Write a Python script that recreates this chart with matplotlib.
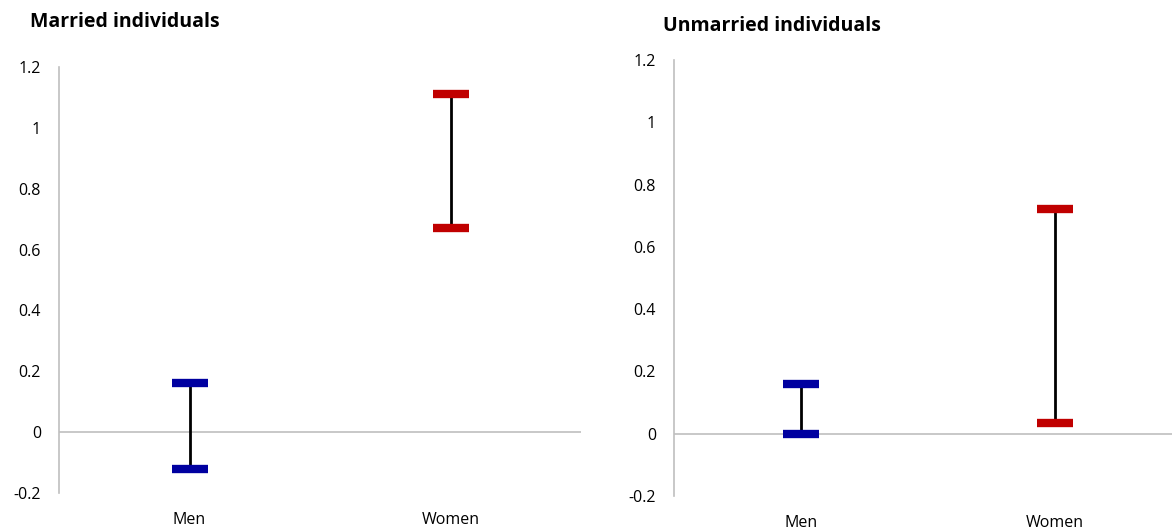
import matplotlib.pyplot as plt

plt.rcParams['font.family'] = ['Open Sans', 'DejaVu Sans']

categories = ['Men', 'Women']
married_low = [-0.12, 0.67]
married_high = [0.16, 1.11]
unmarried_low = [0.0, 0.035]
unmarried_high = [0.16, 0.72]
cap_colors = ['#0000A0', '#C00000']
yticks = [-0.2, 0, 0.2, 0.4, 0.6, 0.8, 1, 1.2]
ylabels = ['-0.2', '0', '0.2', '0.4', '0.6', '0.8', '1', '1.2']

W, H = 1172, 527
fig = plt.figure(figsize=(W / 100, H / 100), dpi=100)


def panel(rect, low, high, title, title_xy):
    x0, x1, ytop, ybot = rect
    ax = fig.add_axes([x0 / W, (H - ybot) / H, (x1 - x0) / W, (ybot - ytop) / H])
    ax.set_xlim(-0.5, 1.5)
    ax.set_ylim(-0.2, 1.2)
    ax.axhline(0, color='#BFBFBF', lw=1.2, zorder=1)
    xs = range(len(categories))
    ax.vlines(xs, low, high, color='black', lw=2, zorder=2)
    for i in xs:
        for v in (low[i], high[i]):
            ax.plot([i], [v], marker='_', ms=26, mew=6, color=cap_colors[i], zorder=3)
    for s in ['top', 'right', 'bottom']:
        ax.spines[s].set_visible(False)
    ax.spines['left'].set_color('#BFBFBF')
    ax.spines['left'].set_linewidth(1.2)
    ax.set_yticks(yticks)
    ax.set_yticklabels(ylabels)
    ax.set_xticks(list(xs))
    ax.set_xticklabels(categories)
    ax.tick_params(axis='y', length=0, pad=13, labelsize=11.5, colors='black')
    ax.tick_params(axis='x', length=0, pad=14, labelsize=11.5, colors='black')
    fig.text(title_xy[0] / W, 1 - title_xy[1] / H, title, fontsize=14, fontweight='bold',
             va='center', ha='left')
    return ax


panel((59, 581, 67, 493), married_low, married_high, 'Married individuals', (30, 22))
panel((674, 1182, 60, 496), unmarried_low, unmarried_high, 'Unmarried individuals', (663, 26))

fig.savefig('out.png', dpi=100)
